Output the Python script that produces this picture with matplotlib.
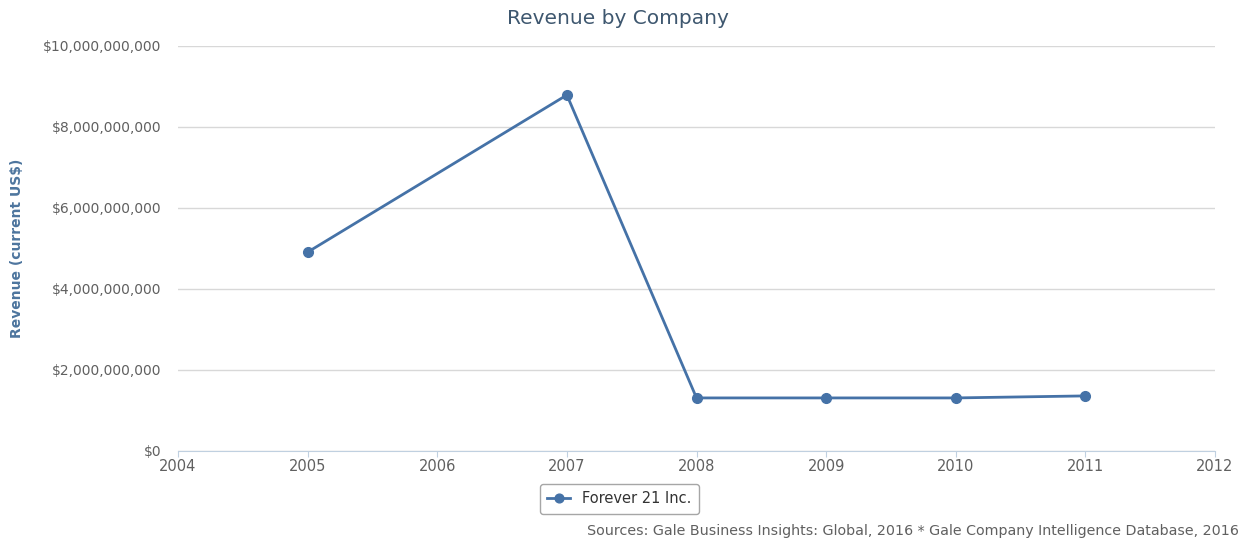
import matplotlib.pyplot as plt
from matplotlib.ticker import FuncFormatter

years = [2005, 2007, 2008, 2009, 2010, 2011]
revenue = [4.91e9, 8.79e9, 1.31e9, 1.31e9, 1.31e9, 1.36e9]
series_name = "Forever 21 Inc."

line_color = "#4572a7"
fig = plt.figure(figsize=(12.43, 5.41), dpi=100)
ax = fig.add_axes([0.1432, 0.1664, 0.8343, 0.7486])

ax.plot(years, revenue, color=line_color, lw=2, marker="o", ms=7,
        label=series_name)

ax.set_xlim(2004, 2012)
ax.set_ylim(0, 1e10)
ax.set_xticks(range(2004, 2013))
ax.set_yticks([0, 2e9, 4e9, 6e9, 8e9, 1e10])
ax.yaxis.set_major_formatter(FuncFormatter(lambda v, p: "${:,.0f}".format(v)))
ax.grid(axis="y", color="#d8d8d8", lw=1)
ax.set_axisbelow(True)
for s in ["top", "right", "left"]:
    ax.spines[s].set_visible(False)
ax.spines["bottom"].set_color("#c0d0e0")
ax.tick_params(axis="y", length=0, pad=12, labelsize=10, labelcolor="#606060")
ax.tick_params(axis="x", length=4, color="#c0d0e0", pad=2, labelsize=10.5,
               labelcolor="#606060")

ax.set_ylabel("Revenue (current US$)", color="#4d759e", fontsize=10,
              fontweight="bold", labelpad=14)
fig.text(0.497, 0.965, "Revenue by Company", ha="center", va="center",
         fontsize=14.5, color="#3e576f")

leg = ax.legend(loc="center", bbox_to_anchor=(0.4255, -0.118), frameon=True,
                fontsize=10.5, handlelength=1.6, borderpad=0.5,
                fancybox=True, edgecolor="#909090", markerscale=0.9)
for t in leg.get_texts():
    t.set_color("#333333")

fig.text(0.997, 0.018, "Sources: Gale Business Insights: Global, 2016 * Gale Company Intelligence Database, 2016",
         ha="right", va="center", fontsize=10.3, color="#606060")

fig.savefig("out.png", dpi=100)
